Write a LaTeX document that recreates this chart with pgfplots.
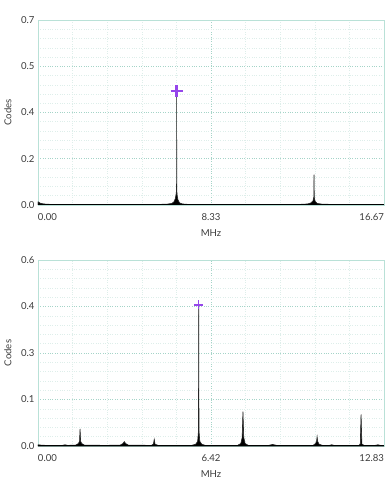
\documentclass[border=0pt]{standalone}
\usepackage{fontspec}
\setmainfont{Lato}
\usepackage{pgfplots}
\pgfplotsset{compat=1.18}
\definecolor{majgrid}{RGB}{165,212,200}
\definecolor{mingrid}{RGB}{222,238,234}
\definecolor{axcol}{RGB}{185,225,215}
\definecolor{txt}{RGB}{60,60,60}
\definecolor{markcol}{RGB}{150,70,235}
\pgfplotsset{
  myax/.style={
    scale only axis,
    anchor=south west,
    width=346pt,
    /pgf/number format/assume math mode=true,
    axis line style={draw=axcol, line width=0.6pt},
    major tick length=0pt, minor tick length=0pt,
    xmajorgrids, ymajorgrids, xminorgrids, yminorgrids,
    major grid style={draw=majgrid, dotted, line width=0.6pt},
    minor grid style={draw=mingrid, dotted, line width=0.5pt},
    minor x tick num=4, minor y tick num=4,
    tick label style={font=\fontsize{9.6}{11}\selectfont, text=txt},
    label style={font=\fontsize{9.6}{11}\selectfont, text=txt},
    xticklabel style={yshift=-5pt},
    xlabel={MHz}, ylabel={Codes},
    xlabel style={at={(axis description cs:0.5,0)}, anchor=center, yshift=-28.5pt},
    ylabel style={at={(axis description cs:0,0.5)}, anchor=center, yshift=30pt},
    clip=true,
  }
}
\begin{document}
\begin{tikzpicture}[x=1pt,y=1pt]
\useasboundingbox (0,0) rectangle (390,483);
\begin{axis}[myax, at={(38pt,278pt)}, height=185pt,
  xmin=0, xmax=16.67, ymin=0, ymax=0.7,
  xtick={0,8.335,16.67},
  xticklabels={\makebox[0pt][l]{0.00},8.33,\makebox[0pt][r]{16.67}},
  ytick={0,0.175,0.35,0.525,0.7},
  yticklabels={0.0,0.2,0.4,0.5,0.7}]
\addplot[draw=black!85, line width=0.6pt, fill=black] coordinates {
(0,0) (0,0.012)(0.05,0.010)(0.1,0.007)(0.2,0.005)(0.4,0.003)(0.8,0.002)(2,0.002)(4,0.002)(5.5,0.002)(6.2,0.003)(6.45,0.006)(6.55,0.012)(6.62,0.025)(6.66,0.045)(6.675,0.062)(6.68,0.431)(6.685,0.062)(6.70,0.04)(6.74,0.02)(6.82,0.008)(6.95,0.004)(7.3,0.002)(10,0.002)(12.5,0.002)(13.0,0.004)(13.15,0.008)(13.25,0.016)(13.29,0.03)(13.30,0.115)(13.31,0.03)(13.35,0.014)(13.45,0.006)(13.7,0.003)(14.5,0.002)(16.67,0.002)(16.67,0)
} -- cycle;
\addplot[draw=black, line width=1.2pt] coordinates {(0,0.001)(16.67,0.001)};
\addplot[only marks, mark=+, mark size=6pt, draw=markcol, line width=2.4pt] coordinates {(6.68,0.431)};
\end{axis}
\begin{axis}[myax, at={(38pt,37pt)}, height=186pt,
  xmin=0, xmax=12.83, ymin=0, ymax=0.6,
  xtick={0,6.415,12.83},
  xticklabels={\makebox[0pt][l]{0.00},6.42,\makebox[0pt][r]{12.83}},
  ytick={0,0.15,0.3,0.45,0.6},
  yticklabels={0.0,0.1,0.3,0.4,0.6}]
\addplot[draw=black!85, line width=0.6pt, fill=black] coordinates {
(0,0)(0,0.004)(0.1,0.003)(0.3,0.002)(0.9,0.002)(1.0,0.004)(1.1,0.002)(1.40,0.003)(1.50,0.008)(1.54,0.015)(1.56,0.055)(1.58,0.015)(1.62,0.008)(1.72,0.003)(2.5,0.002)(3.05,0.003)(3.15,0.008)(3.20,0.014)(3.25,0.008)(3.35,0.003)(4.2,0.002)(4.28,0.006)(4.31,0.0215)(4.34,0.006)(4.45,0.002)(5.7,0.002)(5.85,0.006)(5.92,0.015)(5.95,0.049)(5.96,0.455)(5.97,0.049)(6.0,0.015)(6.07,0.006)(6.2,0.002)(7.4,0.002)(7.52,0.008)(7.57,0.027)(7.60,0.111)(7.63,0.027)(7.68,0.008)(7.8,0.002)(8.55,0.002)(8.7,0.005)(8.85,0.002)(10.2,0.002)(10.29,0.008)(10.33,0.015)(10.35,0.030)(10.37,0.015)(10.42,0.006)(10.55,0.002)(10.8,0.002)(10.89,0.004)(10.98,0.002)(11.9,0.002)(11.95,0.006)(11.98,0.102)(12.01,0.006)(12.1,0.002)(12.5,0.002)(12.6,0.004)(12.7,0.002)(12.83,0.002)(12.83,0)
} -- cycle;
\addplot[draw=black, line width=1.2pt] coordinates {(0,0.001)(12.83,0.001)};
\addplot[only marks, mark=+, mark size=4.5pt, draw=markcol, line width=1.5pt] coordinates {(5.96,0.455)};
\end{axis}
\end{tikzpicture}
\end{document}
